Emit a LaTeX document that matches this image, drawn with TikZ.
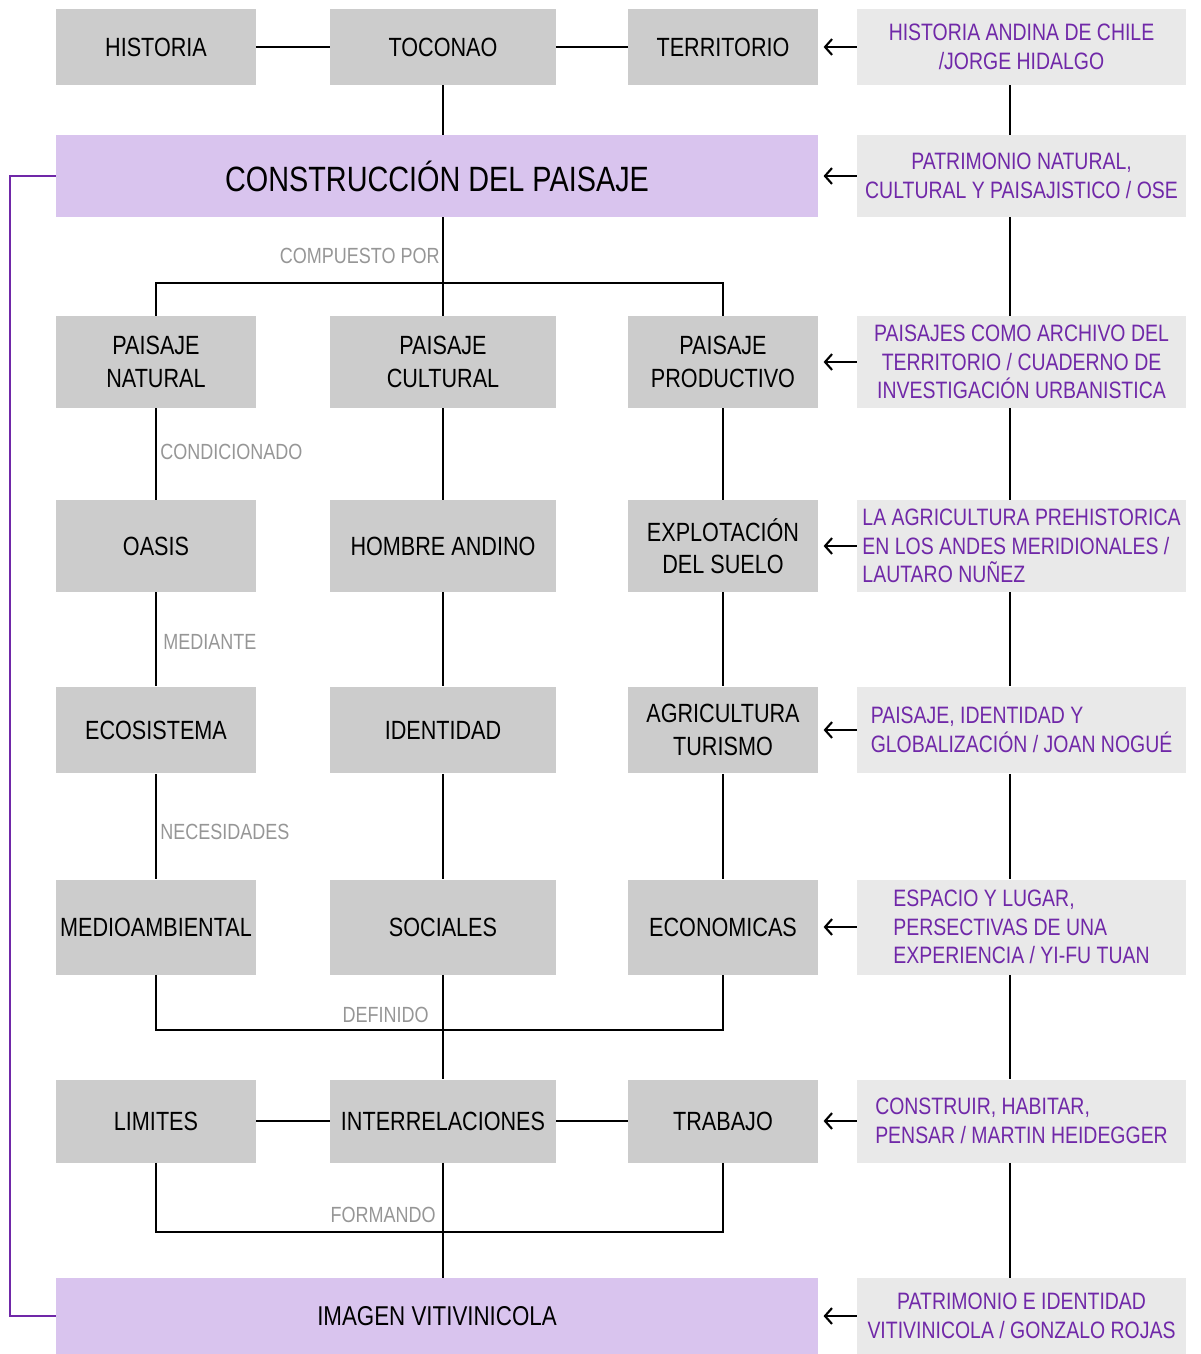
\documentclass[tikz,border=0pt]{standalone}
\usepackage{fontspec}
\setmainfont[FakeStretch=0.82]{Liberation Sans}
\usetikzlibrary{arrows.meta,positioning,calc}
\definecolor{boxgray}{RGB}{204,204,204}
\definecolor{refgray}{RGB}{233,233,233}
\definecolor{mainlila}{RGB}{217,196,238}
\definecolor{refpurple}{RGB}{112,40,168}
\definecolor{taggray}{RGB}{150,150,150}
\tikzset{
  box/.style={rectangle, fill=boxgray, inner sep=1pt, align=center, font=\fontsize{15}{18.5}\selectfont},
  refbox/.style={rectangle, fill=refgray, text=refpurple, inner sep=1pt, minimum width=6.58cm, font=\fontsize{13.5}{16.4}\selectfont},
  main/.style={rectangle, fill=mainlila, minimum width=15.24cm},
  connect/.style={line width=1.2pt},
  cite/.style={connect, -{Straight Barb[length=4pt,width=9pt]}, shorten >=3pt},
  tag/.style={text=taggray, inner sep=0pt, font=\fontsize{12.5}{15}\selectfont}
}
\begin{document}
\begin{tikzpicture}[x=0.02cm, y=-0.02cm]
    \useasboundingbox (0,0) rectangle (1200,1354);

    % fila superior
    \node[box, minimum width=4cm, minimum height=1.52cm] (Hist) at (156,47) {HISTORIA};
    \node[box, minimum width=4.52cm, minimum height=1.52cm] (Toc) at (443,47) {TOCONAO};
    \node[box, minimum width=3.8cm, minimum height=1.52cm] (Terr) at (723,47) {TERRITORIO};
    \node[main, minimum height=1.64cm, font=\fontsize{20}{24}\selectfont] (Cons) at (437,176) {CONSTRUCCIÓN DEL PAISAJE};

    % tres paisajes
    \node[box, minimum width=4cm, minimum height=1.84cm] (Nat) at (156,362) {PAISAJE\\NATURAL};
    \node[box, minimum width=4.52cm, minimum height=1.84cm] (Cult) at (443,362) {PAISAJE\\CULTURAL};
    \node[box, minimum width=3.8cm, minimum height=1.84cm] (Prod) at (723,362) {PAISAJE\\PRODUCTIVO};

    \node[box, minimum width=4cm, minimum height=1.84cm] (Oasis) at (156,546) {OASIS};
    \node[box, minimum width=4.52cm, minimum height=1.84cm] (Hombre) at (443,546) {HOMBRE ANDINO};
    \node[box, minimum width=3.8cm, minimum height=1.84cm] (Expl) at (723,546) {EXPLOTACIÓN\\DEL SUELO};

    \node[box, minimum width=4cm, minimum height=1.74cm] (Eco) at (156,730) {ECOSISTEMA};
    \node[box, minimum width=4.52cm, minimum height=1.74cm] (Ident) at (443,730) {IDENTIDAD};
    \node[box, minimum width=3.8cm, minimum height=1.74cm] (Agri) at (723,730) {AGRICULTURA\\TURISMO};

    \node[box, minimum width=4cm, minimum height=1.9cm] (Medio) at (156,927) {MEDIOAMBIENTAL};
    \node[box, minimum width=4.52cm, minimum height=1.9cm] (Soc) at (443,927) {SOCIALES};
    \node[box, minimum width=3.8cm, minimum height=1.9cm] (Econ) at (723,927) {ECONOMICAS};

    \node[box, minimum width=4cm, minimum height=1.66cm] (Lim) at (156,1121) {LIMITES};
    \node[box, minimum width=4.52cm, minimum height=1.66cm] (Inter) at (443,1121) {INTERRELACIONES};
    \node[box, minimum width=3.8cm, minimum height=1.66cm] (Trab) at (723,1121) {TRABAJO};

    \node[main, minimum height=1.52cm, font=\fontsize{15.5}{18.5}\selectfont] (Img) at (437,1316) {IMAGEN VITIVINICOLA};

    % fuentes
    \node[refbox, minimum height=1.52cm, align=center] (F1) at (1021.5,47) {HISTORIA ANDINA DE CHILE\\/JORGE HIDALGO};
    \node[refbox, minimum height=1.64cm, align=center] (F2) at (1021.5,176) {PATRIMONIO NATURAL,\\CULTURAL Y PAISAJISTICO / OSE};
    \node[refbox, minimum height=1.84cm, align=center] (F3) at (1021.5,362) {PAISAJES COMO ARCHIVO DEL\\TERRITORIO / CUADERNO DE\\INVESTIGACIÓN URBANISTICA};
    \node[refbox, minimum height=1.84cm, align=left] (F4) at (1021.5,546) {LA AGRICULTURA PREHISTORICA\\EN LOS ANDES MERIDIONALES /\\LAUTARO NUÑEZ};
    \node[refbox, minimum height=1.74cm, align=left] (F5) at (1021.5,730) {PAISAJE, IDENTIDAD Y\\GLOBALIZACIÓN / JOAN NOGUÉ};
    \node[refbox, minimum height=1.9cm, align=left] (F6) at (1021.5,927) {ESPACIO Y LUGAR,\\PERSECTIVAS DE UNA\\EXPERIENCIA / YI-FU TUAN};
    \node[refbox, minimum height=1.66cm, align=left] (F7) at (1021.5,1121) {CONSTRUIR, HABITAR,\\PENSAR / MARTIN HEIDEGGER};
    \node[refbox, minimum height=1.52cm, align=center] (F8) at (1021.5,1316) {PATRIMONIO E IDENTIDAD\\VITIVINICOLA / GONZALO ROJAS};

    % etiquetas
    \node[tag, anchor=east] (tComp) at (440,256) {COMPUESTO POR};
    \node[tag, anchor=west] (tCond) at (160,452) {CONDICIONADO};
    \node[tag, anchor=west] (tMed) at (163,642) {MEDIANTE};
    \node[tag, anchor=west] (tNec) at (160,832) {NECESIDADES};
    \node[tag, anchor=east] (tDef) at (429,1015) {DEFINIDO};
    \node[tag, anchor=east] (tForm) at (436,1215) {FORMANDO};

    \path (Hist) edge [connect] (Toc)
          (Toc) edge [connect] (Terr)
          (Lim) edge [connect] (Inter)
          (Inter) edge [connect] (Trab);
    \draw [connect] (Toc.south) -- (Toc.south |- Cons.north);

    % columnas
    \path (Nat) edge [connect] (Oasis)
          (Oasis) edge [connect] (Eco)
          (Eco) edge [connect] (Medio);
    \path (Cult) edge [connect] (Hombre)
          (Hombre) edge [connect] (Ident)
          (Ident) edge [connect] (Soc)
          (Soc) edge [connect] (Inter);
    \path (Prod) edge [connect] (Expl)
          (Expl) edge [connect] (Agri)
          (Agri) edge [connect] (Econ);

    % corchetes
    \draw [connect] (Cult.north |- Cons.south) -- (Cult.north);
    \draw [connect] (Nat.north) -- ++(0,-33) coordinate (c1) -| (Prod.north);
    \draw [connect] (Medio.south) -- ++(0,55) coordinate (c2) -| (Econ.south);
    \draw [connect] (Lim.south) -- ++(0,69) coordinate (c3) -| (Trab.south);
    \draw [connect] (Inter.south) -- (Inter.south |- Img.north);

    % linea lateral
    \draw [connect, refpurple] (Cons.west) -- ++(-46,0) |- (Img.west);

    % eje de fuentes
    \foreach \a/\b in {F1/F2, F2/F3, F3/F4, F4/F5, F5/F6, F6/F7, F7/F8}
        \draw [connect] ([xshift=-0.23cm]\a.south) -- ([xshift=-0.23cm]\b.north);

    \path (F1) edge [cite] (Terr)
          (F2) edge [cite] (Cons)
          (F3) edge [cite] (Prod)
          (F4) edge [cite] (Expl)
          (F5) edge [cite] (Agri)
          (F6) edge [cite] (Econ)
          (F7) edge [cite] (Trab)
          (F8) edge [cite] (Img);
\end{tikzpicture}
\end{document}
